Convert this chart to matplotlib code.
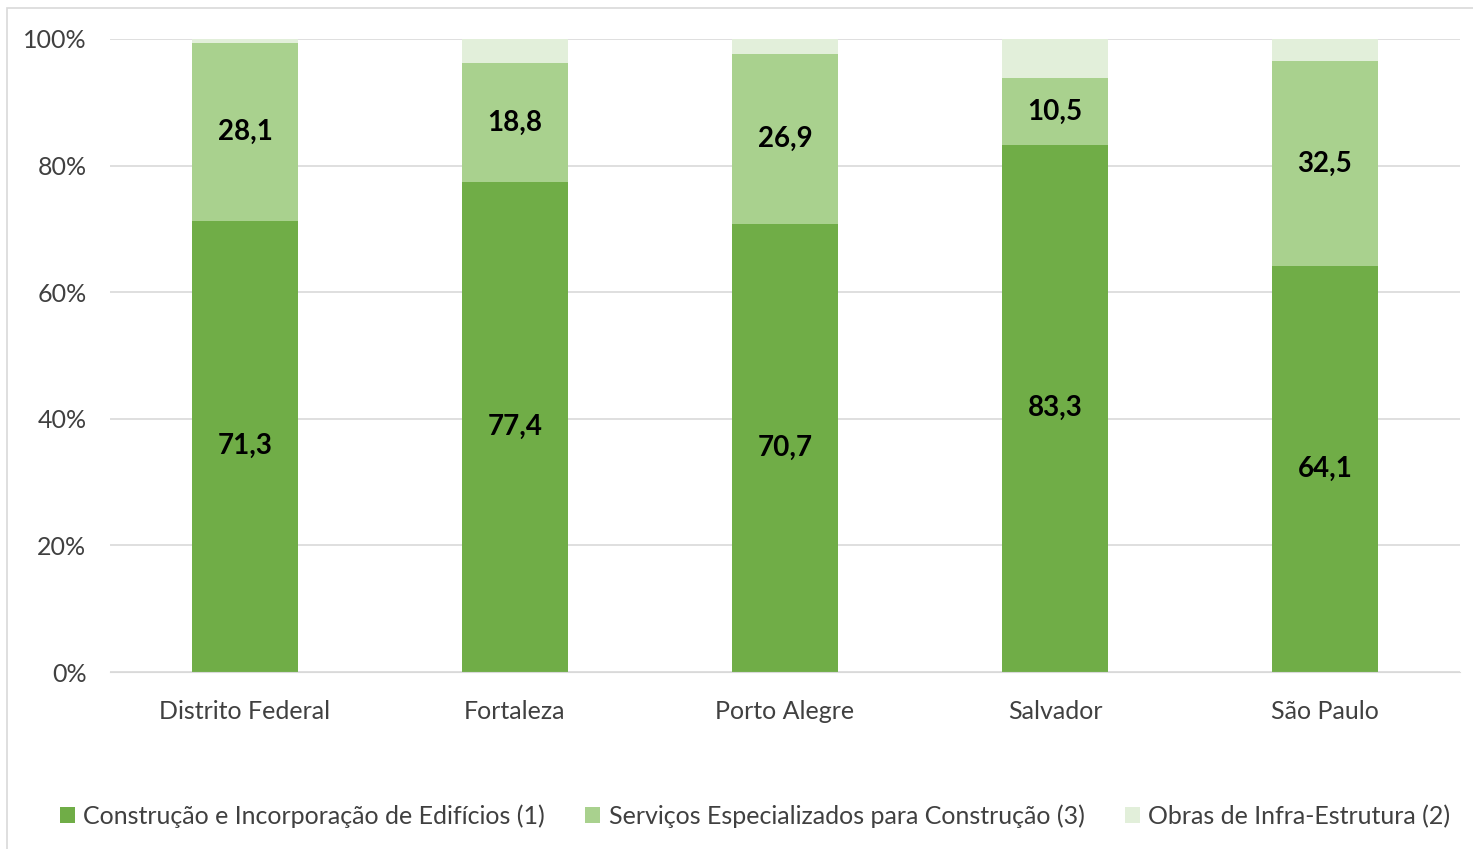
import matplotlib.pyplot as plt
import numpy as np
from matplotlib.patches import Rectangle
from matplotlib.ticker import PercentFormatter

plt.rcParams['font.family'] = ['Lato', 'DejaVu Sans']

# dados
cidades = ['Distrito Federal', 'Fortaleza', 'Porto Alegre', 'Salvador', 'São Paulo']
construcao = [71.3, 77.4, 70.7, 83.3, 64.1]
servicos = [28.1, 18.8, 26.9, 10.5, 32.5]
infra = [0.6, 3.8, 2.4, 6.2, 3.4]

nomes = ['Construção e Incorporação de Edifícios (1)',
         'Serviços Especializados para Construção (3)',
         'Obras de Infra-Estrutura (2)']
cores = ['#70AD47', '#A9D18E', '#E2EFDA']

fig = plt.figure(figsize=(14.73, 8.49), dpi=100)
ax = fig.add_axes([110 / 1473, 1 - 672 / 849, 1350 / 1473, 633 / 849])

x = np.arange(len(cidades))
w = 0.396
b1 = ax.bar(x, construcao, w, color=cores[0], label=nomes[0], zorder=2)
b2 = ax.bar(x, servicos, w, bottom=construcao, color=cores[1], label=nomes[1], zorder=2)
b3 = ax.bar(x, infra, w, bottom=np.add(construcao, servicos), color=cores[2], label=nomes[2], zorder=2)

# rótulos
for bars, vals in [(b1, construcao), (b2, servicos)]:
    for r, v in zip(bars, vals):
        ax.text(r.get_x() + r.get_width() / 2, r.get_y() + r.get_height() / 2,
                f'{v:.1f}'.replace('.', ','), ha='center', va='center',
                fontsize=20, fontweight='bold', color='black')

ax.set_xlim(-0.5, 4.5)
ax.set_ylim(0, 100)
ax.set_yticks(range(0, 101, 20))
ax.yaxis.set_major_formatter(PercentFormatter(decimals=0))
ax.set_xticks(x)
ax.set_xticklabels(cidades)
ax.tick_params(axis='both', length=0, labelsize=18, colors='#404040')
ax.tick_params(axis='x', pad=20)
ax.tick_params(axis='y', pad=17)
ax.grid(axis='y', color='#D9D9D9', linewidth=1.2, zorder=0)
for s in ['top', 'right', 'left']:
    ax.spines[s].set_visible(False)
ax.spines['bottom'].set_color('#D9D9D9')

ax.legend(loc='center', bbox_to_anchor=(755 / 1473, 1 - 816 / 849), bbox_transform=fig.transFigure,
          ncol=3, frameon=False, fontsize=18, handlelength=0.6, handleheight=0.6,
          handletextpad=0.35, columnspacing=1.6, labelcolor='#404040')

# borda
fig.patches.append(Rectangle((7 / 1473, -0.01), 1.02, 1 - 8 / 849 + 0.01, transform=fig.transFigure,
                             fill=False, edgecolor='#D9D9D9', linewidth=1.2))

fig.savefig('out.png', dpi=100)
